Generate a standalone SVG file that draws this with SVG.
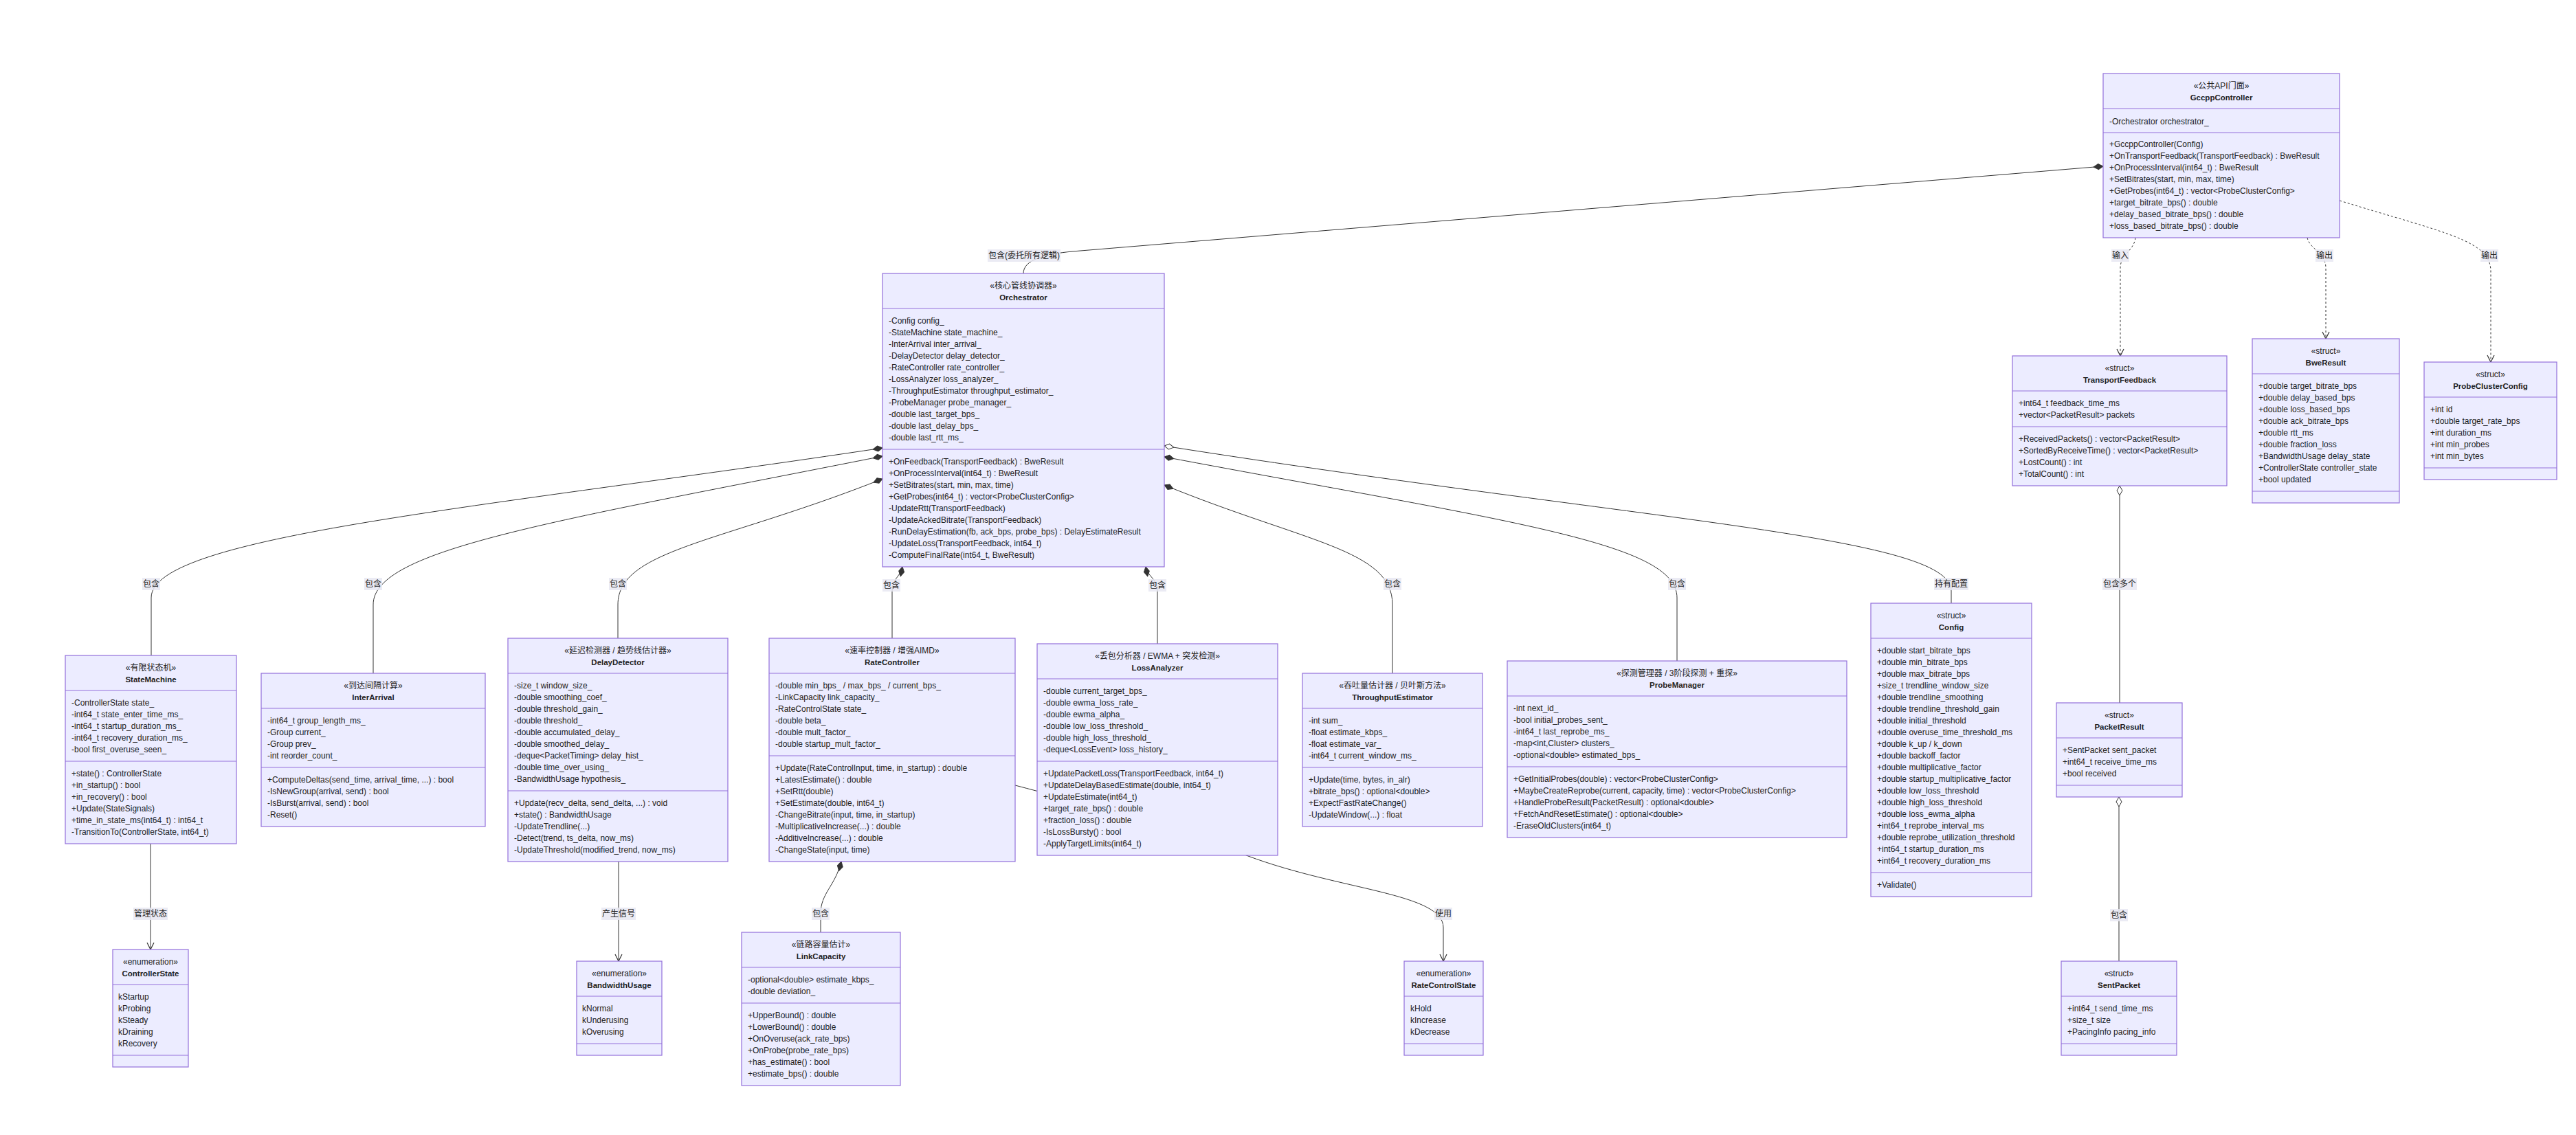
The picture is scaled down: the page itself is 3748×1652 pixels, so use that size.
<svg xmlns="http://www.w3.org/2000/svg" width="3748" height="1652" viewBox="0 0 3748 1652">
<style>
.bx{fill:#ECECFF;stroke:#9370DB;stroke-width:1.2}
.dv{stroke:#9370DB;stroke-width:1.2}
.t{font-family:"Liberation Sans","Noto Sans CJK SC",sans-serif;font-size:12px;fill:#222}
.c{text-anchor:middle}
.n{font-weight:bold;font-size:11.5px}
.e{fill:none;stroke:#333;stroke-width:1}
.d{stroke-dasharray:3 3}
.lb{fill:#E8E8F2;opacity:0.85}
</style>
<defs>
<marker id="dS" viewBox="0 0 16 10" refX="1" refY="5" markerWidth="16" markerHeight="10" markerUnits="userSpaceOnUse" orient="auto"><path d="M1,5 L8,1 L15,5 L8,9 Z" fill="#333" stroke="#333"/></marker>
<marker id="dE" viewBox="0 0 16 10" refX="15" refY="5" markerWidth="16" markerHeight="10" markerUnits="userSpaceOnUse" orient="auto"><path d="M1,5 L8,1 L15,5 L8,9 Z" fill="#333" stroke="#333"/></marker>
<marker id="hS" viewBox="0 0 16 10" refX="1" refY="5" markerWidth="16" markerHeight="10" markerUnits="userSpaceOnUse" orient="auto"><path d="M1,5 L8,1 L15,5 L8,9 Z" fill="#fff" stroke="#333"/></marker>
<marker id="ar" viewBox="0 0 12 12" refX="11" refY="6" markerWidth="12" markerHeight="12" markerUnits="userSpaceOnUse" orient="auto"><path d="M1,1 L11,6 L1,11" fill="none" stroke="#333" stroke-width="1.2"/></marker>
</defs>
<rect width="3748" height="1652" fill="#fff"/>
<g id="connectors">
<path class="e" d="M1489,398 C1489,378 1520,370 1560,366 L3060,242" marker-end="url(#dE)"/>
<path class="e d" d="M3107,346 C3105,365 3085,370 3085,390 L3085,518" marker-end="url(#ar)"/>
<path class="e d" d="M3357,346 C3360,362 3384,368 3384,390 L3384,493" marker-end="url(#ar)"/>
<path class="e d" d="M3404,292 C3560,340 3624,350 3624,395 L3624,527" marker-end="url(#ar)"/>
<path class="e" d="M1284,652 C700,740 220,780 220,870 L220,954" marker-start="url(#dS)"/>
<path class="e" d="M1284,664 C800,760 543,800 543,880 L543,980" marker-start="url(#dS)"/>
<path class="e" d="M1284,697 C1050,790 899,800 899,880 L899,929" marker-start="url(#dS)"/>
<path class="e" d="M1313,825 C1310,840 1298,842 1298,860 L1298,929" marker-start="url(#dS)"/>
<path class="e" d="M1667,825 C1670,840 1684,842 1684,860 L1684,937" marker-start="url(#dS)"/>
<path class="e" d="M1694,706 C1900,790 2026,800 2026,880 L2026,980" marker-start="url(#dS)"/>
<path class="e" d="M1694,665 C2200,760 2440,790 2440,870 L2440,962" marker-start="url(#dS)"/>
<path class="e" d="M1694,649 C2400,760 2839,780 2839,860 L2839,878" marker-start="url(#hS)"/>
<path class="e" d="M3084,707 L3084,1023" marker-start="url(#hS)"/>
<path class="e" d="M3083,1160 L3083,1399" marker-start="url(#hS)"/>
<path class="e" d="M219,1228 L219,1382" marker-end="url(#ar)"/>
<path class="e" d="M900,1254 L900,1399" marker-end="url(#ar)"/>
<path class="e" d="M1224,1254 C1215,1290 1194,1300 1194,1330 L1194,1357" marker-start="url(#dS)"/>
<path class="e" d="M1477,1143 C1560,1165 1700,1200 1816,1246 C1950,1296 2100,1300 2100,1350 L2100,1399" marker-end="url(#ar)"/>
<g id="edge-labels">
<rect class="lb" x="1437" y="363" width="106" height="18"/><text class="t c" x="1490" y="376">包含(委托所有逻辑)</text>
<rect class="lb" x="3072" y="363" width="26" height="18"/><text class="t c" x="3085" y="376">输入</text>
<rect class="lb" x="3369" y="363" width="26" height="18"/><text class="t c" x="3382" y="376">输出</text>
<rect class="lb" x="3609" y="363" width="26" height="18"/><text class="t c" x="3622" y="376">输出</text>
<rect class="lb" x="207" y="841" width="26" height="18"/><text class="t c" x="220" y="854">包含</text>
<rect class="lb" x="530" y="841" width="26" height="18"/><text class="t c" x="543" y="854">包含</text>
<rect class="lb" x="886" y="841" width="26" height="18"/><text class="t c" x="899" y="854">包含</text>
<rect class="lb" x="1284" y="843" width="26" height="18"/><text class="t c" x="1297" y="856">包含</text>
<rect class="lb" x="1671" y="843" width="26" height="18"/><text class="t c" x="1684" y="856">包含</text>
<rect class="lb" x="2013" y="841" width="26" height="18"/><text class="t c" x="2026" y="854">包含</text>
<rect class="lb" x="2427" y="841" width="26" height="18"/><text class="t c" x="2440" y="854">包含</text>
<rect class="lb" x="2814" y="841" width="50" height="18"/><text class="t c" x="2839" y="854">持有配置</text>
<rect class="lb" x="3059" y="841" width="50" height="18"/><text class="t c" x="3084" y="854">包含多个</text>
<rect class="lb" x="194" y="1321" width="50" height="18"/><text class="t c" x="219" y="1334">管理状态</text>
<rect class="lb" x="875" y="1321" width="50" height="18"/><text class="t c" x="900" y="1334">产生信号</text>
<rect class="lb" x="1181" y="1321" width="26" height="18"/><text class="t c" x="1194" y="1334">包含</text>
<rect class="lb" x="2087" y="1321" width="26" height="18"/><text class="t c" x="2100" y="1334">使用</text>
<rect class="lb" x="3070" y="1323" width="26" height="18"/><text class="t c" x="3083" y="1336">包含</text>
</g>
</g>
<g id="GccppController">
<rect class="bx" x="3060" y="107" width="344" height="239"/>
<line class="dv" x1="3060" y1="158" x2="3404" y2="158"/><line class="dv" x1="3060" y1="193" x2="3404" y2="193"/>
<text class="t c" x="3232" y="129">«公共API门面»</text><text class="t c n" x="3232" y="146">GccppController</text>
<text class="t"><tspan x="3069" y="181">-Orchestrator orchestrator_</tspan>
<tspan x="3069" y="214">+GccppController(Config)</tspan>
<tspan x="3069" y="231">+OnTransportFeedback(TransportFeedback) : BweResult</tspan>
<tspan x="3069" y="248">+OnProcessInterval(int64_t) : BweResult</tspan>
<tspan x="3069" y="265">+SetBitrates(start, min, max, time)</tspan>
<tspan x="3069" y="282">+GetProbes(int64_t) : vector&lt;ProbeClusterConfig&gt;</tspan>
<tspan x="3069" y="299">+target_bitrate_bps() : double</tspan>
<tspan x="3069" y="316">+delay_based_bitrate_bps() : double</tspan>
<tspan x="3069" y="333">+loss_based_bitrate_bps() : double</tspan></text>
</g>
<g id="Orchestrator">
<rect class="bx" x="1284" y="398" width="410" height="427"/>
<line class="dv" x1="1284" y1="449" x2="1694" y2="449"/><line class="dv" x1="1284" y1="654" x2="1694" y2="654"/>
<text class="t c" x="1489" y="420">«核心管线协调器»</text><text class="t c n" x="1489" y="437">Orchestrator</text>
<text class="t"><tspan x="1293" y="471">-Config config_</tspan>
<tspan x="1293" y="488">-StateMachine state_machine_</tspan>
<tspan x="1293" y="505">-InterArrival inter_arrival_</tspan>
<tspan x="1293" y="522">-DelayDetector delay_detector_</tspan>
<tspan x="1293" y="539">-RateController rate_controller_</tspan>
<tspan x="1293" y="556">-LossAnalyzer loss_analyzer_</tspan>
<tspan x="1293" y="573">-ThroughputEstimator throughput_estimator_</tspan>
<tspan x="1293" y="590">-ProbeManager probe_manager_</tspan>
<tspan x="1293" y="607">-double last_target_bps_</tspan>
<tspan x="1293" y="624">-double last_delay_bps_</tspan>
<tspan x="1293" y="641">-double last_rtt_ms_</tspan>
<tspan x="1293" y="676">+OnFeedback(TransportFeedback) : BweResult</tspan>
<tspan x="1293" y="693">+OnProcessInterval(int64_t) : BweResult</tspan>
<tspan x="1293" y="710">+SetBitrates(start, min, max, time)</tspan>
<tspan x="1293" y="727">+GetProbes(int64_t) : vector&lt;ProbeClusterConfig&gt;</tspan>
<tspan x="1293" y="744">-UpdateRtt(TransportFeedback)</tspan>
<tspan x="1293" y="761">-UpdateAckedBitrate(TransportFeedback)</tspan>
<tspan x="1293" y="778">-RunDelayEstimation(fb, ack_bps, probe_bps) : DelayEstimateResult</tspan>
<tspan x="1293" y="795">-UpdateLoss(TransportFeedback, int64_t)</tspan>
<tspan x="1293" y="812">-ComputeFinalRate(int64_t, BweResult)</tspan></text>
</g>
<g id="StateMachine">
<rect class="bx" x="95" y="954" width="249" height="274"/>
<line class="dv" x1="95" y1="1005" x2="344" y2="1005"/><line class="dv" x1="95" y1="1108" x2="344" y2="1108"/>
<text class="t c" x="219.5" y="976">«有限状态机»</text><text class="t c n" x="219.5" y="993">StateMachine</text>
<text class="t"><tspan x="104" y="1027">-ControllerState state_</tspan>
<tspan x="104" y="1044">-int64_t state_enter_time_ms_</tspan>
<tspan x="104" y="1061">-int64_t startup_duration_ms_</tspan>
<tspan x="104" y="1078">-int64_t recovery_duration_ms_</tspan>
<tspan x="104" y="1095">-bool first_overuse_seen_</tspan>
<tspan x="104" y="1130">+state() : ControllerState</tspan>
<tspan x="104" y="1147">+in_startup() : bool</tspan>
<tspan x="104" y="1164">+in_recovery() : bool</tspan>
<tspan x="104" y="1181">+Update(StateSignals)</tspan>
<tspan x="104" y="1198">+time_in_state_ms(int64_t) : int64_t</tspan>
<tspan x="104" y="1215">-TransitionTo(ControllerState, int64_t)</tspan></text>
</g>
<g id="InterArrival">
<rect class="bx" x="380" y="980" width="326" height="223"/>
<line class="dv" x1="380" y1="1031" x2="706" y2="1031"/><line class="dv" x1="380" y1="1117" x2="706" y2="1117"/>
<text class="t c" x="543" y="1002">«到达间隔计算»</text><text class="t c n" x="543" y="1019">InterArrival</text>
<text class="t"><tspan x="389" y="1053">-int64_t group_length_ms_</tspan>
<tspan x="389" y="1070">-Group current_</tspan>
<tspan x="389" y="1087">-Group prev_</tspan>
<tspan x="389" y="1104">-int reorder_count_</tspan>
<tspan x="389" y="1139">+ComputeDeltas(send_time, arrival_time, ...) : bool</tspan>
<tspan x="389" y="1156">-IsNewGroup(arrival, send) : bool</tspan>
<tspan x="389" y="1173">-IsBurst(arrival, send) : bool</tspan>
<tspan x="389" y="1190">-Reset()</tspan></text>
</g>
<g id="DelayDetector">
<rect class="bx" x="739" y="929" width="320" height="325"/>
<line class="dv" x1="739" y1="980" x2="1059" y2="980"/><line class="dv" x1="739" y1="1151" x2="1059" y2="1151"/>
<text class="t c" x="899" y="951">«延迟检测器 / 趋势线估计器»</text><text class="t c n" x="899" y="968">DelayDetector</text>
<text class="t"><tspan x="748" y="1002">-size_t window_size_</tspan>
<tspan x="748" y="1019">-double smoothing_coef_</tspan>
<tspan x="748" y="1036">-double threshold_gain_</tspan>
<tspan x="748" y="1053">-double threshold_</tspan>
<tspan x="748" y="1070">-double accumulated_delay_</tspan>
<tspan x="748" y="1087">-double smoothed_delay_</tspan>
<tspan x="748" y="1104">-deque&lt;PacketTiming&gt; delay_hist_</tspan>
<tspan x="748" y="1121">-double time_over_using_</tspan>
<tspan x="748" y="1138">-BandwidthUsage hypothesis_</tspan>
<tspan x="748" y="1173">+Update(recv_delta, send_delta, ...) : void</tspan>
<tspan x="748" y="1190">+state() : BandwidthUsage</tspan>
<tspan x="748" y="1207">-UpdateTrendline(...)</tspan>
<tspan x="748" y="1224">-Detect(trend, ts_delta, now_ms)</tspan>
<tspan x="748" y="1241">-UpdateThreshold(modified_trend, now_ms)</tspan></text>
</g>
<g id="RateController">
<rect class="bx" x="1119" y="929" width="358" height="325"/>
<line class="dv" x1="1119" y1="980" x2="1477" y2="980"/><line class="dv" x1="1119" y1="1100" x2="1477" y2="1100"/>
<text class="t c" x="1298" y="951">«速率控制器 / 增强AIMD»</text><text class="t c n" x="1298" y="968">RateController</text>
<text class="t"><tspan x="1128" y="1002">-double min_bps_ / max_bps_ / current_bps_</tspan>
<tspan x="1128" y="1019">-LinkCapacity link_capacity_</tspan>
<tspan x="1128" y="1036">-RateControlState state_</tspan>
<tspan x="1128" y="1053">-double beta_</tspan>
<tspan x="1128" y="1070">-double mult_factor_</tspan>
<tspan x="1128" y="1087">-double startup_mult_factor_</tspan>
<tspan x="1128" y="1122">+Update(RateControlInput, time, in_startup) : double</tspan>
<tspan x="1128" y="1139">+LatestEstimate() : double</tspan>
<tspan x="1128" y="1156">+SetRtt(double)</tspan>
<tspan x="1128" y="1173">+SetEstimate(double, int64_t)</tspan>
<tspan x="1128" y="1190">-ChangeBitrate(input, time, in_startup)</tspan>
<tspan x="1128" y="1207">-MultiplicativeIncrease(...) : double</tspan>
<tspan x="1128" y="1224">-AdditiveIncrease(...) : double</tspan>
<tspan x="1128" y="1241">-ChangeState(input, time)</tspan></text>
</g>
<g id="LossAnalyzer">
<rect class="bx" x="1509" y="937" width="350" height="308"/>
<line class="dv" x1="1509" y1="988" x2="1859" y2="988"/><line class="dv" x1="1509" y1="1108" x2="1859" y2="1108"/>
<text class="t c" x="1684" y="959">«丢包分析器 / EWMA + 突发检测»</text><text class="t c n" x="1684" y="976">LossAnalyzer</text>
<text class="t"><tspan x="1518" y="1010">-double current_target_bps_</tspan>
<tspan x="1518" y="1027">-double ewma_loss_rate_</tspan>
<tspan x="1518" y="1044">-double ewma_alpha_</tspan>
<tspan x="1518" y="1061">-double low_loss_threshold_</tspan>
<tspan x="1518" y="1078">-double high_loss_threshold_</tspan>
<tspan x="1518" y="1095">-deque&lt;LossEvent&gt; loss_history_</tspan>
<tspan x="1518" y="1130">+UpdatePacketLoss(TransportFeedback, int64_t)</tspan>
<tspan x="1518" y="1147">+UpdateDelayBasedEstimate(double, int64_t)</tspan>
<tspan x="1518" y="1164">+UpdateEstimate(int64_t)</tspan>
<tspan x="1518" y="1181">+target_rate_bps() : double</tspan>
<tspan x="1518" y="1198">+fraction_loss() : double</tspan>
<tspan x="1518" y="1215">-IsLossBursty() : bool</tspan>
<tspan x="1518" y="1232">-ApplyTargetLimits(int64_t)</tspan></text>
</g>
<g id="ThroughputEstimator">
<rect class="bx" x="1895" y="980" width="262" height="223"/>
<line class="dv" x1="1895" y1="1031" x2="2157" y2="1031"/><line class="dv" x1="1895" y1="1117" x2="2157" y2="1117"/>
<text class="t c" x="2026" y="1002">«吞吐量估计器 / 贝叶斯方法»</text><text class="t c n" x="2026" y="1019">ThroughputEstimator</text>
<text class="t"><tspan x="1904" y="1053">-int sum_</tspan>
<tspan x="1904" y="1070">-float estimate_kbps_</tspan>
<tspan x="1904" y="1087">-float estimate_var_</tspan>
<tspan x="1904" y="1104">-int64_t current_window_ms_</tspan>
<tspan x="1904" y="1139">+Update(time, bytes, in_alr)</tspan>
<tspan x="1904" y="1156">+bitrate_bps() : optional&lt;double&gt;</tspan>
<tspan x="1904" y="1173">+ExpectFastRateChange()</tspan>
<tspan x="1904" y="1190">-UpdateWindow(...) : float</tspan></text>
</g>
<g id="ProbeManager">
<rect class="bx" x="2193" y="962" width="494" height="257"/>
<line class="dv" x1="2193" y1="1013" x2="2687" y2="1013"/><line class="dv" x1="2193" y1="1116" x2="2687" y2="1116"/>
<text class="t c" x="2440" y="984">«探测管理器 / 3阶段探测 + 重探»</text><text class="t c n" x="2440" y="1001">ProbeManager</text>
<text class="t"><tspan x="2202" y="1035">-int next_id_</tspan>
<tspan x="2202" y="1052">-bool initial_probes_sent_</tspan>
<tspan x="2202" y="1069">-int64_t last_reprobe_ms_</tspan>
<tspan x="2202" y="1086">-map&lt;int,Cluster&gt; clusters_</tspan>
<tspan x="2202" y="1103">-optional&lt;double&gt; estimated_bps_</tspan>
<tspan x="2202" y="1138">+GetInitialProbes(double) : vector&lt;ProbeClusterConfig&gt;</tspan>
<tspan x="2202" y="1155">+MaybeCreateReprobe(current, capacity, time) : vector&lt;ProbeClusterConfig&gt;</tspan>
<tspan x="2202" y="1172">+HandleProbeResult(PacketResult) : optional&lt;double&gt;</tspan>
<tspan x="2202" y="1189">+FetchAndResetEstimate() : optional&lt;double&gt;</tspan>
<tspan x="2202" y="1206">-EraseOldClusters(int64_t)</tspan></text>
</g>
<g id="Config">
<rect class="bx" x="2722" y="878" width="234" height="427"/>
<line class="dv" x1="2722" y1="929" x2="2956" y2="929"/><line class="dv" x1="2722" y1="1270" x2="2956" y2="1270"/>
<text class="t c" x="2839" y="900">«struct»</text><text class="t c n" x="2839" y="917">Config</text>
<text class="t"><tspan x="2731" y="951">+double start_bitrate_bps</tspan>
<tspan x="2731" y="968">+double min_bitrate_bps</tspan>
<tspan x="2731" y="985">+double max_bitrate_bps</tspan>
<tspan x="2731" y="1002">+size_t trendline_window_size</tspan>
<tspan x="2731" y="1019">+double trendline_smoothing</tspan>
<tspan x="2731" y="1036">+double trendline_threshold_gain</tspan>
<tspan x="2731" y="1053">+double initial_threshold</tspan>
<tspan x="2731" y="1070">+double overuse_time_threshold_ms</tspan>
<tspan x="2731" y="1087">+double k_up / k_down</tspan>
<tspan x="2731" y="1104">+double backoff_factor</tspan>
<tspan x="2731" y="1121">+double multiplicative_factor</tspan>
<tspan x="2731" y="1138">+double startup_multiplicative_factor</tspan>
<tspan x="2731" y="1155">+double low_loss_threshold</tspan>
<tspan x="2731" y="1172">+double high_loss_threshold</tspan>
<tspan x="2731" y="1189">+double loss_ewma_alpha</tspan>
<tspan x="2731" y="1206">+int64_t reprobe_interval_ms</tspan>
<tspan x="2731" y="1223">+double reprobe_utilization_threshold</tspan>
<tspan x="2731" y="1240">+int64_t startup_duration_ms</tspan>
<tspan x="2731" y="1257">+int64_t recovery_duration_ms</tspan>
<tspan x="2731" y="1292">+Validate()</tspan></text>
</g>
<g id="TransportFeedback">
<rect class="bx" x="2928" y="518" width="312" height="189"/>
<line class="dv" x1="2928" y1="569" x2="3240" y2="569"/><line class="dv" x1="2928" y1="621" x2="3240" y2="621"/>
<text class="t c" x="3084" y="540">«struct»</text><text class="t c n" x="3084" y="557">TransportFeedback</text>
<text class="t"><tspan x="2937" y="591">+int64_t feedback_time_ms</tspan>
<tspan x="2937" y="608">+vector&lt;PacketResult&gt; packets</tspan>
<tspan x="2937" y="643">+ReceivedPackets() : vector&lt;PacketResult&gt;</tspan>
<tspan x="2937" y="660">+SortedByReceiveTime() : vector&lt;PacketResult&gt;</tspan>
<tspan x="2937" y="677">+LostCount() : int</tspan>
<tspan x="2937" y="694">+TotalCount() : int</tspan></text>
</g>
<g id="BweResult">
<rect class="bx" x="3277" y="493" width="214" height="239"/>
<line class="dv" x1="3277" y1="544" x2="3491" y2="544"/><line class="dv" x1="3277" y1="715" x2="3491" y2="715"/>
<text class="t c" x="3384" y="515">«struct»</text><text class="t c n" x="3384" y="532">BweResult</text>
<text class="t"><tspan x="3286" y="566">+double target_bitrate_bps</tspan>
<tspan x="3286" y="583">+double delay_based_bps</tspan>
<tspan x="3286" y="600">+double loss_based_bps</tspan>
<tspan x="3286" y="617">+double ack_bitrate_bps</tspan>
<tspan x="3286" y="634">+double rtt_ms</tspan>
<tspan x="3286" y="651">+double fraction_loss</tspan>
<tspan x="3286" y="668">+BandwidthUsage delay_state</tspan>
<tspan x="3286" y="685">+ControllerState controller_state</tspan>
<tspan x="3286" y="702">+bool updated</tspan></text>
</g>
<g id="ProbeClusterConfig">
<rect class="bx" x="3527" y="527" width="193" height="171"/>
<line class="dv" x1="3527" y1="578" x2="3720" y2="578"/><line class="dv" x1="3527" y1="681" x2="3720" y2="681"/>
<text class="t c" x="3623.5" y="549">«struct»</text><text class="t c n" x="3623.5" y="566">ProbeClusterConfig</text>
<text class="t"><tspan x="3536" y="600">+int id</tspan>
<tspan x="3536" y="617">+double target_rate_bps</tspan>
<tspan x="3536" y="634">+int duration_ms</tspan>
<tspan x="3536" y="651">+int min_probes</tspan>
<tspan x="3536" y="668">+int min_bytes</tspan></text>
</g>
<g id="PacketResult">
<rect class="bx" x="2992" y="1023" width="183" height="137"/>
<line class="dv" x1="2992" y1="1074" x2="3175" y2="1074"/><line class="dv" x1="2992" y1="1143" x2="3175" y2="1143"/>
<text class="t c" x="3083.5" y="1045">«struct»</text><text class="t c n" x="3083.5" y="1062">PacketResult</text>
<text class="t"><tspan x="3001" y="1096">+SentPacket sent_packet</tspan>
<tspan x="3001" y="1113">+int64_t receive_time_ms</tspan>
<tspan x="3001" y="1130">+bool received</tspan></text>
</g>
<g id="SentPacket">
<rect class="bx" x="2999" y="1399" width="168" height="137"/>
<line class="dv" x1="2999" y1="1450" x2="3167" y2="1450"/><line class="dv" x1="2999" y1="1519" x2="3167" y2="1519"/>
<text class="t c" x="3083" y="1421">«struct»</text><text class="t c n" x="3083" y="1438">SentPacket</text>
<text class="t"><tspan x="3008" y="1472">+int64_t send_time_ms</tspan>
<tspan x="3008" y="1489">+size_t size</tspan>
<tspan x="3008" y="1506">+PacingInfo pacing_info</tspan></text>
</g>
<g id="ControllerState">
<rect class="bx" x="164" y="1382" width="110" height="171"/>
<line class="dv" x1="164" y1="1433" x2="274" y2="1433"/><line class="dv" x1="164" y1="1536" x2="274" y2="1536"/>
<text class="t c" x="219" y="1404">«enumeration»</text><text class="t c n" x="219" y="1421">ControllerState</text>
<text class="t"><tspan x="172" y="1455">kStartup</tspan>
<tspan x="172" y="1472">kProbing</tspan>
<tspan x="172" y="1489">kSteady</tspan>
<tspan x="172" y="1506">kDraining</tspan>
<tspan x="172" y="1523">kRecovery</tspan></text>
</g>
<g id="BandwidthUsage">
<rect class="bx" x="839" y="1399" width="124" height="137"/>
<line class="dv" x1="839" y1="1450" x2="963" y2="1450"/><line class="dv" x1="839" y1="1519" x2="963" y2="1519"/>
<text class="t c" x="901" y="1421">«enumeration»</text><text class="t c n" x="901" y="1438">BandwidthUsage</text>
<text class="t"><tspan x="847" y="1472">kNormal</tspan>
<tspan x="847" y="1489">kUnderusing</tspan>
<tspan x="847" y="1506">kOverusing</tspan></text>
</g>
<g id="LinkCapacity">
<rect class="bx" x="1079" y="1357" width="231" height="223"/>
<line class="dv" x1="1079" y1="1408" x2="1310" y2="1408"/><line class="dv" x1="1079" y1="1460" x2="1310" y2="1460"/>
<text class="t c" x="1194.5" y="1379">«链路容量估计»</text><text class="t c n" x="1194.5" y="1396">LinkCapacity</text>
<text class="t"><tspan x="1088" y="1430">-optional&lt;double&gt; estimate_kbps_</tspan>
<tspan x="1088" y="1447">-double deviation_</tspan>
<tspan x="1088" y="1482">+UpperBound() : double</tspan>
<tspan x="1088" y="1499">+LowerBound() : double</tspan>
<tspan x="1088" y="1516">+OnOveruse(ack_rate_bps)</tspan>
<tspan x="1088" y="1533">+OnProbe(probe_rate_bps)</tspan>
<tspan x="1088" y="1550">+has_estimate() : bool</tspan>
<tspan x="1088" y="1567">+estimate_bps() : double</tspan></text>
</g>
<g id="RateControlState">
<rect class="bx" x="2043" y="1399" width="115" height="137"/>
<line class="dv" x1="2043" y1="1450" x2="2158" y2="1450"/><line class="dv" x1="2043" y1="1519" x2="2158" y2="1519"/>
<text class="t c" x="2100.5" y="1421">«enumeration»</text><text class="t c n" x="2100.5" y="1438">RateControlState</text>
<text class="t"><tspan x="2052" y="1472">kHold</tspan>
<tspan x="2052" y="1489">kIncrease</tspan>
<tspan x="2052" y="1506">kDecrease</tspan></text>
</g>
</svg>
